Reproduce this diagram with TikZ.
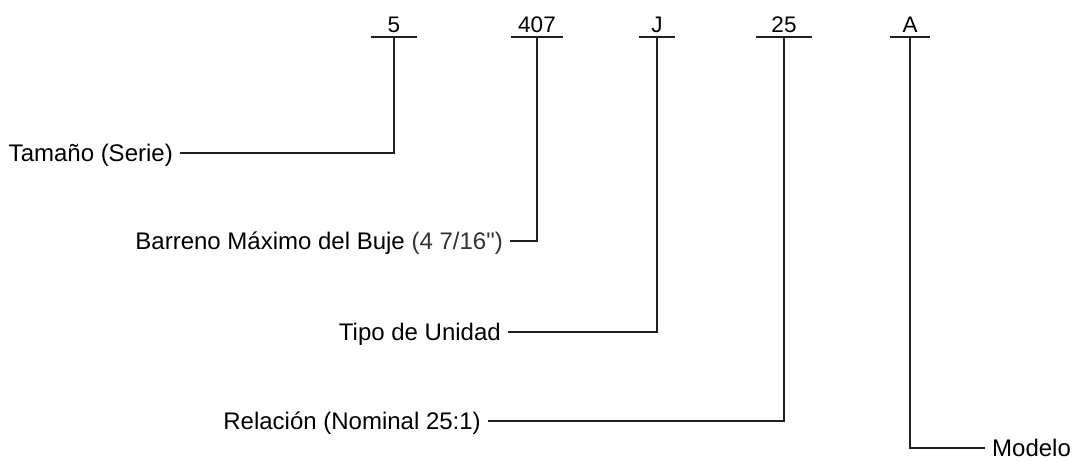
\documentclass[tikz,border=0pt]{standalone}
\usepackage{fontspec}
\setmainfont{Liberation Sans}
\newfontfamily\plainfont{Liberation Sans}
\begin{document}
\begin{tikzpicture}[x=1pt,y=-1pt,
  num/.style={anchor=south, inner xsep=0pt, inner ysep=4pt, font=\fontsize{22.5}{26}\selectfont, text=black},
  lbl/.style={inner xsep=7pt, inner ysep=0pt, text height=17pt, text depth=0pt, font=\fontsize{24}{28}\selectfont, text=black},
  wire/.style={line width=2.5pt, color=black!88}]
\useasboundingbox (0,0) rectangle (1079,462);
% code letters
\node[num, minimum width=45pt] (n5)  at (394,37) {5};
\node[num, minimum width=51pt] (n407) at (537,37) {407};
\node[num, minimum width=35pt] (nJ)  at (657,37) {J};
\node[num, minimum width=56pt] (n25) at (784,37) {25};
\node[num, minimum width=40pt] (nA)  at (910,37) {A};
% labels
\node[lbl, anchor=east] (tam) at (180,153) {Tamaño (Serie)};
\node[lbl, anchor=east] (bar) at (510,241) {Barreno Máximo del Buje {\color{black!80}(4 7/16{\plainfont "})}};
\node[lbl, anchor=east] (tip) at (508,332) {Tipo de Unidad};
\node[lbl, anchor=east] (rel) at (488,421) {Relación (Nominal 25:1)};
\node[lbl, anchor=west] (mod) at (985,448) {Modelo};
% bars
\foreach \n in {n5,n407,nJ,n25,nA}
  \draw[wire] (\n.south west) -- (\n.south east);
% connectors
\draw[wire] (n5.south) |- (tam.east);
\draw[wire] (n407.south) |- (bar.east);
\draw[wire] (nJ.south) |- (tip.east);
\draw[wire] (n25.south) |- (rel.east);
\draw[wire] (nA.south) |- (mod.west);
\end{tikzpicture}
\end{document}
